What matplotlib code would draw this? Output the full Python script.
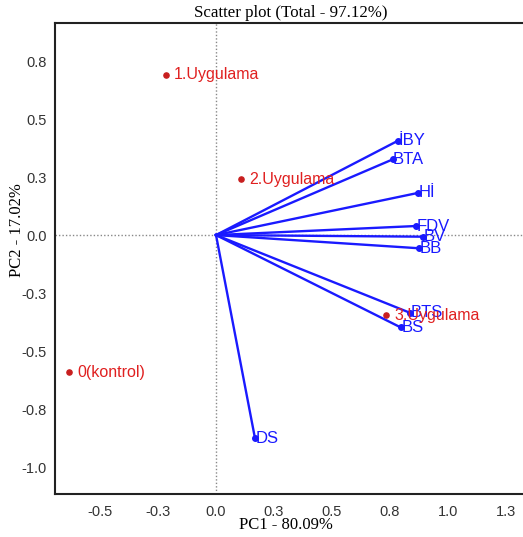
import matplotlib
matplotlib.use("Agg")
import matplotlib.pyplot as plt

# Observations (scores)
obs_names = ["1.Uygulama", "2.Uygulama", "3.Uygulama", "0(kontrol)"]
obs_x = [-0.216, 0.108, 0.733, -0.634]
obs_y = [0.690, 0.241, -0.345, -0.591]

# Variables (loadings)
var_names = ["İBY", "BTA", "Hİ", "FDV", "BV", "BB", "BTS", "BS", "DS"]
var_x = [0.783, 0.761, 0.872, 0.862, 0.894, 0.876, 0.836, 0.796, 0.168]
var_y = [0.406, 0.326, 0.182, 0.039, -0.007, -0.057, -0.335, -0.398, -0.876]

x_ticks = [-0.5, -0.25, 0.0, 0.25, 0.5, 0.75, 1.0, 1.25]
x_tick_labels = ["-0.5", "-0.3", "0.0", "0.3", "0.5", "0.8", "1.0", "1.3"]
y_ticks = [0.75, 0.5, 0.25, 0.0, -0.25, -0.5, -0.75, -1.0]
y_tick_labels = ["0.8", "0.5", "0.3", "0.0", "-0.3", "-0.5", "-0.8", "-1.0"]

W, H = 523, 537
fig = plt.figure(figsize=(W / 100, H / 100), dpi=100)
left, right, top, bottom = 55, 526, 23, 494
ax = fig.add_axes([left / W, 1 - bottom / H, (right - left) / W, (bottom - top) / H])
ax.set_xlim(-0.694, 1.336)
ax.set_ylim(-1.116, 0.914)

ax.axhline(0, color="#888888", linestyle=(0, (1, 1.5)), linewidth=1.0, zorder=1)
ax.axvline(0, color="#888888", linestyle=(0, (1, 1.5)), linewidth=1.0, zorder=1)

blue = "#1a1aff"
red = "#e02020"
for n, x, y in zip(var_names, var_x, var_y):
    ax.plot([0, x], [0, y], color=blue, linewidth=1.7, zorder=2)
    ax.plot([x], [y], marker="o", markersize=4, color=blue, zorder=3)
    ax.text(x + 0.002, y, n, color=blue, fontsize=12, family="Liberation Sans",
            ha="left", va="center", zorder=4)

ax.scatter(obs_x, obs_y, s=14, color="#c81e1e", zorder=5)
for n, x, y in zip(obs_names, obs_x, obs_y):
    ax.text(x + 0.035, y, n, color=red, fontsize=11.5, family="Liberation Sans",
            ha="left", va="center", zorder=6)

ax.set_xticks(x_ticks)
ax.set_xticklabels(x_tick_labels, family="Liberation Sans", fontsize=10.5, color="#333333")
ax.set_yticks(y_ticks)
ax.set_yticklabels(y_tick_labels, family="Liberation Sans", fontsize=10.5, color="#333333")
ax.tick_params(axis="x", length=0, pad=8)
ax.tick_params(axis="y", length=0, pad=6)

for s in ax.spines.values():
    s.set_linewidth(1.5)
    s.set_color("#222222")

ax.set_title("Scatter plot (Total - 97.12%)", family="Liberation Serif", fontsize=12.2, pad=4)
ax.set_xlabel("PC1 - 80.09%", family="Liberation Serif", fontsize=12)
ax.set_ylabel("PC2 - 17.02%", family="Liberation Serif", fontsize=12)
ax.xaxis.set_label_coords((286 - left) / (right - left), (bottom - 525) / (bottom - top))
ax.yaxis.set_label_coords((17 - left) / (right - left), (bottom - 230) / (bottom - top))
ax.xaxis.label.set_va("center")
ax.yaxis.label.set_va("center")

fig.savefig("out.png", dpi=100)
